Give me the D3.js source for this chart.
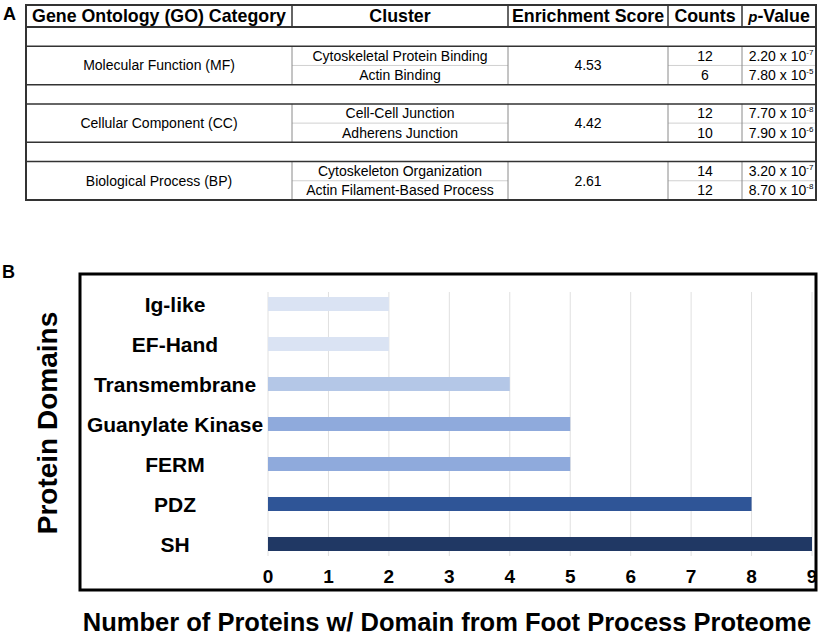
<!DOCTYPE html>
<html>
<head>
<meta charset="utf-8">
<script src="https://cdn.jsdelivr.net/npm/d3@7"></script>
<style>
  html, body { margin: 0; padding: 0; background: #fff; }
  svg { display: block; font-family: "Liberation Sans", Arial, Helvetica, sans-serif; }
</style>
</head>
<body>
<div id="chart"></div>
<script>
// Panel A: GO enrichment table
const tableHeaders = ["Gene Ontology (GO) Category", "Cluster", "Enrichment Score", "Counts", "p-Value"];
const goCategories = ["Molecular Function (MF)", "Cellular Component (CC)", "Biological Process (BP)"];
const goClusters = [
  ["Cytoskeletal Protein Binding", "Actin Binding"],
  ["Cell-Cell Junction", "Adherens Junction"],
  ["Cytoskeleton Organization", "Actin Filament-Based Process"]
];
const enrichmentScores = ["4.53", "4.42", "2.61"];
const clusterCounts = [[12, 6], [12, 10], [14, 12]];
const pMantissa = [["2.20", "7.80"], ["7.70", "7.90"], ["3.20", "8.70"]];
const pExponent = [[-7, -5], [-8, -6], [-7, -8]];

// Panel B: protein domains bar chart
const domains = ["Ig-like", "EF-Hand", "Transmembrane", "Guanylate Kinase", "FERM", "PDZ", "SH"];
const domainCounts = [2, 2, 4, 5, 5, 8, 9];
const xTicks = [0, 1, 2, 3, 4, 5, 6, 7, 8, 9];

const barPalette = ["#dae3f3", "#dae3f3", "#b4c7e7", "#8faadc", "#8faadc", "#2f5597", "#203864"];

const W = 823, H = 636;
const svg = d3.select("#chart").append("svg").attr("width", W).attr("height", H);

/* ---------- A: table ---------- */
const colX = [26, 292, 508, 668, 742, 816];
const tTop = 5, headBot = 27, tBot = 200;
// below the header: per group a blank spanning row, then two cluster rows
const rowY = d3.scaleLinear().domain([0, 9]).range([headBot, tBot]);
const colMid = i => (colX[i] + colX[i + 1]) / 2;

svg.append("text").attr("x", 3).attr("y", 20)
  .attr("font-size", 18).attr("font-weight", "bold").text("A");

const tbl = svg.append("g");

tbl.selectAll("text.hd").data(tableHeaders).join("text")
  .attr("class", "hd")
  .attr("x", (d, i) => colMid(i))
  .attr("y", 22)
  .attr("text-anchor", "middle")
  .attr("font-size", 17.8).attr("font-weight", "bold")
  .each(function (d) {
    const t = d3.select(this);
    if (d.startsWith("p-")) {
      t.append("tspan").attr("font-style", "italic").attr("font-size", 15).text("p");
      t.append("tspan").text(d.slice(1));
    } else t.text(d);
  });

goCategories.forEach((cat, g) => {
  const r0 = rowY(g * 3 + 1), r1 = rowY(g * 3 + 2), r2 = rowY(g * 3 + 3);
  // light sub dividers (cluster, counts, p-value columns)
  [1, 3, 4].forEach(c => {
    tbl.append("line").attr("x1", colX[c]).attr("x2", colX[c + 1])
      .attr("y1", r1).attr("y2", r1).attr("stroke", "#d0d0d0").attr("stroke-width", 1);
  });
  colX.slice(1, 5).forEach(xv => {
    tbl.append("line").attr("x1", xv).attr("x2", xv).attr("y1", r0).attr("y2", r2)
      .attr("stroke", "#8a8a8a").attr("stroke-width", 1);
  });
  tbl.append("text").attr("x", colMid(0)).attr("y", (r0 + r2) / 2 + 5)
    .attr("text-anchor", "middle").attr("font-size", 14).text(cat);
  tbl.append("text").attr("x", colMid(2)).attr("y", (r0 + r2) / 2 + 5)
    .attr("text-anchor", "middle").attr("font-size", 14).text(enrichmentScores[g]);
  [0, 1].forEach(k => {
    const yb = rowY(g * 3 + 1 + k) + 14.5;
    tbl.append("text").attr("x", colMid(1)).attr("y", yb)
      .attr("text-anchor", "middle").attr("font-size", 14).text(goClusters[g][k]);
    tbl.append("text").attr("x", colMid(3)).attr("y", yb)
      .attr("text-anchor", "middle").attr("font-size", 14).text(clusterCounts[g][k]);
    const pt = tbl.append("text").attr("x", colMid(4) + 2).attr("y", yb)
      .attr("text-anchor", "middle").attr("font-size", 14);
    pt.append("tspan").text(pMantissa[g][k] + " x 10");
    pt.append("tspan").attr("font-size", 8).attr("dy", -6).text(pExponent[g][k]);
  });
});

// dark separators: header bottom and the edges of each group
const thick = [headBot].concat(d3.range(1, 9).filter(i => i % 3 !== 2).map(i => rowY(i)));
tbl.selectAll("line.sep").data(thick).join("line")
  .attr("class", "sep")
  .attr("x1", colX[0]).attr("x2", colX[5])
  .attr("y1", d => d).attr("y2", d => d)
  .attr("stroke", "#333").attr("stroke-width", (d, i) => i === 0 ? 2 : 1.5);
tbl.selectAll("line.hv").data(colX.slice(1, 5)).join("line")
  .attr("class", "hv")
  .attr("x1", d => d).attr("x2", d => d).attr("y1", tTop).attr("y2", headBot)
  .attr("stroke", "#333").attr("stroke-width", 1.5);
tbl.append("rect").attr("x", colX[0]).attr("y", tTop)
  .attr("width", colX[5] - colX[0]).attr("height", tBot - tTop)
  .attr("fill", "none").attr("stroke", "#333").attr("stroke-width", 2);

/* ---------- B: bar chart ---------- */
svg.append("text").attr("x", 2).attr("y", 278)
  .attr("font-size", 18).attr("font-weight", "bold").text("B");

const x = d3.scaleLinear().domain([0, 9]).range([268, 812]);
const y = d3.scaleBand().domain(domains).range([284, 564]).paddingInner(0.65).paddingOuter(0.325);
const color = d3.scaleOrdinal().domain(domains).range(barPalette);

svg.append("g").selectAll("line").data(xTicks).join("line")
  .attr("x1", d => x(d)).attr("x2", d => x(d))
  .attr("y1", 292).attr("y2", 556)
  .attr("stroke", "#e0e0e0").attr("stroke-width", 1);

svg.append("g").selectAll("rect").data(domains).join("rect")
  .attr("x", x(0))
  .attr("y", d => y(d))
  .attr("width", (d, i) => x(domainCounts[i]) - x(0))
  .attr("height", y.bandwidth())
  .attr("fill", d => color(d));

svg.append("g").selectAll("text").data(domains).join("text")
  .attr("x", 175)
  .attr("y", d => y(d) + y.bandwidth() / 2 + 7.5)
  .attr("text-anchor", "middle")
  .attr("font-size", 21).attr("font-weight", "bold")
  .text(d => d);

svg.append("g").selectAll("text").data(xTicks).join("text")
  .attr("x", d => x(d))
  .attr("y", 583)
  .attr("text-anchor", "middle")
  .attr("font-size", 19).attr("font-weight", "bold")
  .text(d => d);

svg.append("rect").attr("x", 80).attr("y", 274).attr("width", 736).attr("height", 316)
  .attr("fill", "none").attr("stroke", "#000").attr("stroke-width", 3);

svg.append("text")
  .attr("transform", "translate(47,423) rotate(-90)")
  .attr("text-anchor", "middle").attr("dominant-baseline", "central")
  .attr("font-size", 28).attr("font-weight", "bold")
  .text("Protein Domains");

svg.append("text")
  .attr("x", 447).attr("y", 631)
  .attr("text-anchor", "middle")
  .attr("font-size", 25.5).attr("font-weight", "bold")
  .text("Number of Proteins w/ Domain from Foot Process Proteome");
</script>
</body>
</html>
